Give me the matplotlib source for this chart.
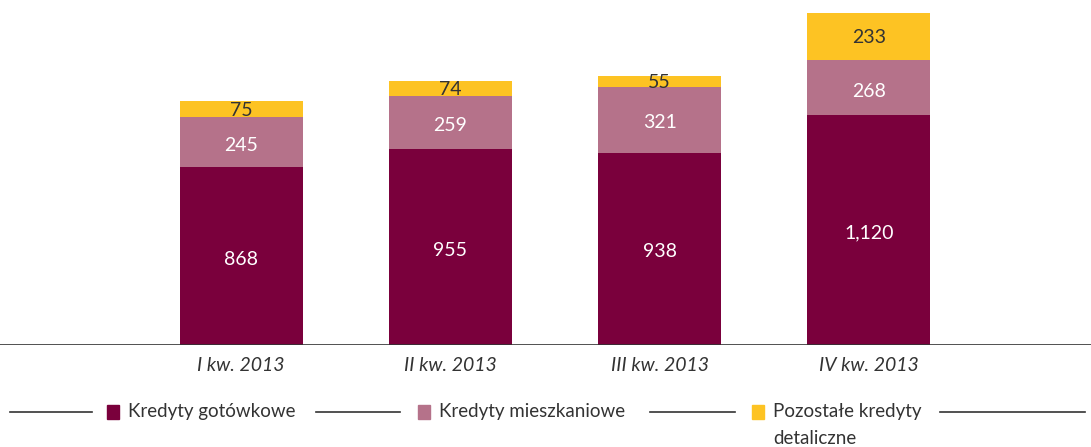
import matplotlib.pyplot as plt
from matplotlib.lines import Line2D
from matplotlib.patches import Rectangle
import numpy as np

plt.rcParams['font.family'] = ['Lato', 'DejaVu Sans']

quarters = ['I kw. 2013', 'II kw. 2013', 'III kw. 2013', 'IV kw. 2013']
gotowkowe = [868, 955, 938, 1120]
mieszkaniowe = [245, 259, 321, 268]
pozostale = [75, 74, 55, 233]
labels_got = ['868', '955', '938', '1,120']

c_got = '#7a003c'
c_mie = '#b5728a'
c_poz = '#fdc323'

W, H = 1091, 447
fig = plt.figure(figsize=(W / 100, H / 100), dpi=100)
ax = fig.add_axes([0, 1 - 345 / H, 1, 345 / H])

x = np.arange(len(quarters))
w = 0.589
got = np.array(gotowkowe)
mie = np.array(mieszkaniowe)
poz = np.array(pozostale)

ax.bar(x, got, w, color=c_got)
ax.bar(x, mie, w, bottom=got, color=c_mie)
ax.bar(x, poz, w, bottom=got + mie, color=c_poz)

off = 15  # labels sit a little below the segment middle
for i in range(len(x)):
    ax.text(x[i], got[i] / 2 - off, labels_got[i], ha='center', va='center',
            color='white', fontsize=14)
    ax.text(x[i], got[i] + mie[i] / 2 - off, str(mie[i]), ha='center', va='center',
            color='white', fontsize=14)
    ax.text(x[i], got[i] + mie[i] + poz[i] / 2 - 5, str(poz[i]), ha='center',
            va='center', color='#333333', fontsize=14)

ax.set_xlim(-1.153, 4.062)
ax.set_ylim(0, 1683)
ax.axis('off')
ax.axhline(0, color='#333333', lw=1.2)

for i, q in enumerate(quarters):
    ax.text(x[i], -100, q, ha='center', va='center', style='italic',
            color='#333333', fontsize=14, transform=ax.transData)

# legend drawn by hand
ly = 1 - 412 / H
def fx(px):
    return px / W

for x0, x1 in [(10, 92), (316, 400), (650, 735), (940, 1085)]:
    fig.add_artist(Line2D([fx(x0), fx(x1)], [ly, ly], color='#333333', lw=1.2))

items = [(107, c_got, 'Kredyty gotówkowe'),
         (418, c_mie, 'Kredyty mieszkaniowe'),
         (752, c_poz, 'Pozostałe kredyty')]
for sx, col, txt in items:
    fig.add_artist(Rectangle((fx(sx), 1 - 419 / H), 12 / W, 14 / H, color=col))
    fig.text(fx(sx + 21), ly, txt, ha='left', va='center', fontsize=13.5,
             color='#333333')
fig.text(fx(773), 1 - 438 / H, 'detaliczne', ha='left', va='center',
         fontsize=13.5, color='#333333')

fig.savefig('out.png', dpi=100)
